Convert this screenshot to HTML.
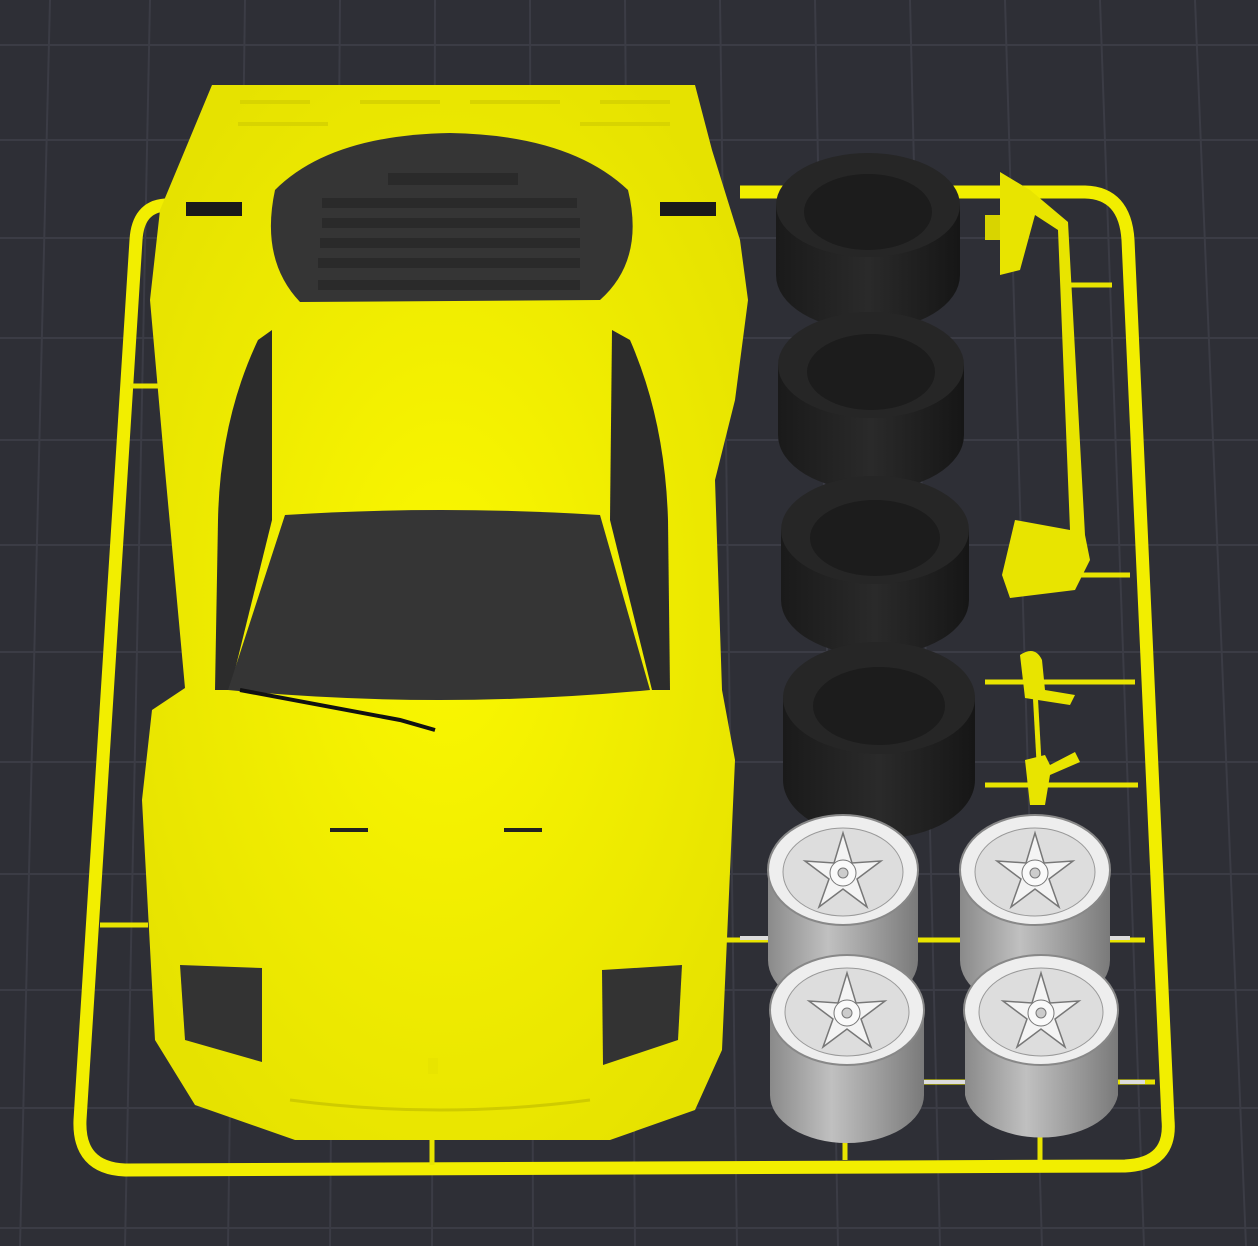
<!DOCTYPE html>
<html><head><meta charset="utf-8"><style>
html,body{margin:0;padding:0;background:#2e2f36;}
svg{display:block;}
</style></head><body>
<svg width="1258" height="1246" viewBox="0 0 1258 1246" xmlns="http://www.w3.org/2000/svg">
<defs>
<linearGradient id="tireG" x1="0" x2="1"><stop offset="0" stop-color="#1a1a1a"/><stop offset=".5" stop-color="#2a2a2a"/><stop offset="1" stop-color="#161616"/></linearGradient>
<linearGradient id="whG" x1="0" x2="1"><stop offset="0" stop-color="#8a8a8a"/><stop offset=".4" stop-color="#c0c0c0"/><stop offset="1" stop-color="#7a7a7a"/></linearGradient>
<radialGradient id="carG" cx=".5" cy=".5" r=".6"><stop offset="0" stop-color="#fbf800"/><stop offset="1" stop-color="#e6e200"/></radialGradient>
<g id="spk"><path d="M0 -40 L9 -10 L38 -12 L14 6 L24 34 L0 16 L-24 34 L-14 6 L-38 -12 L-9 -10 Z" fill="#f4f4f4" stroke="#777" stroke-width="1.5"/><circle r="13" fill="#fafafa" stroke="#777"/><circle r="5" fill="#ccc" stroke="#777"/></g>
</defs>
<rect width="1258" height="1246" fill="#2e2f36"/>
<g stroke="#3b3c45" stroke-width="2">
<line x1="50" y1="0" x2="20" y2="1246"/><line x1="150" y1="0" x2="125" y2="1246"/>
<line x1="245" y1="0" x2="228" y2="1246"/><line x1="340" y1="0" x2="330" y2="1246"/>
<line x1="435" y1="0" x2="432" y2="1246"/><line x1="530" y1="0" x2="533" y2="1246"/>
<line x1="625" y1="0" x2="635" y2="1246"/><line x1="720" y1="0" x2="737" y2="1246"/>
<line x1="815" y1="0" x2="838" y2="1246"/><line x1="910" y1="0" x2="940" y2="1246"/>
<line x1="1005" y1="0" x2="1042" y2="1246"/><line x1="1100" y1="0" x2="1144" y2="1246"/>
<line x1="1195" y1="0" x2="1246" y2="1246"/>
<line x1="0" y1="45" x2="1258" y2="45"/><line x1="0" y1="140" x2="1258" y2="140"/>
<line x1="0" y1="238" x2="1258" y2="238"/><line x1="0" y1="338" x2="1258" y2="338"/>
<line x1="0" y1="440" x2="1258" y2="440"/><line x1="0" y1="545" x2="1258" y2="545"/>
<line x1="0" y1="652" x2="1258" y2="652"/><line x1="0" y1="762" x2="1258" y2="762"/>
<line x1="0" y1="874" x2="1258" y2="874"/><line x1="0" y1="990" x2="1258" y2="990"/>
<line x1="0" y1="1108" x2="1258" y2="1108"/><line x1="0" y1="1228" x2="1258" y2="1228"/>
</g>
<path d="M180 205 L165 205 Q138 207 136 240 L80 1120 Q78 1168 125 1170 L1125 1166 Q1172 1164 1168 1120 L1128 240 Q1125 193 1085 192 L740 192" fill="none" stroke="#f2ee00" stroke-width="13"/>
<g stroke="#e8e400" stroke-width="5">
<line x1="130" y1="386" x2="160" y2="386"/><line x1="100" y1="925" x2="148" y2="925"/>
<line x1="1070" y1="285" x2="1112" y2="285"/><line x1="1080" y1="575" x2="1130" y2="575"/>
<line x1="985" y1="682" x2="1135" y2="682"/><line x1="985" y1="785" x2="1138" y2="785"/>
<line x1="1035" y1="690" x2="1040" y2="780"/><line x1="432" y1="1140" x2="432" y2="1165"/>
<line x1="720" y1="940" x2="1145" y2="940"/><line x1="920" y1="1082" x2="1155" y2="1082"/>
<line x1="845" y1="1135" x2="845" y2="1160"/><line x1="1040" y1="1135" x2="1040" y2="1160"/>
</g>
<g stroke="#ddd" stroke-width="4"><line x1="740" y1="938" x2="770" y2="938"/><line x1="1110" y1="938" x2="1130" y2="938"/><line x1="920" y1="1082" x2="965" y2="1082"/><line x1="1120" y1="1082" x2="1145" y2="1082"/></g>
<path d="M212 85 L695 85 L712 150 L740 240 L748 300 L735 400 L715 480 L722 690 L735 760 L722 1050 L695 1110 L610 1140 L295 1140 L195 1105 L155 1040 L142 800 L152 710 L185 688 L165 470 L150 300 L160 210 L185 150 Z" fill="url(#carG)"/>
<g fill="#d8d400"><rect x="240" y="100" width="70" height="4"/><rect x="360" y="100" width="80" height="4"/><rect x="470" y="100" width="90" height="4"/><rect x="600" y="100" width="70" height="4"/><rect x="238" y="122" width="90" height="4"/><rect x="580" y="122" width="90" height="4"/></g>
<path d="M275 190 Q330 135 450 133 Q570 135 628 190 Q645 260 600 300 L300 302 Q260 260 275 190 Z" fill="#353535"/>
<g fill="#2a2a2a"><rect x="388" y="173" width="130" height="12"/><rect x="322" y="198" width="255" height="10"/><rect x="322" y="218" width="258" height="10"/><rect x="320" y="238" width="260" height="10"/><rect x="318" y="258" width="262" height="10"/><rect x="318" y="280" width="262" height="10"/></g>
<rect x="186" y="202" width="56" height="14" fill="#1a1a1a"/><rect x="660" y="202" width="56" height="14" fill="#1a1a1a"/>
<path d="M272 330 L258 340 Q220 420 218 520 L215 690 L230 690 L272 520 Z" fill="#2c2c2c"/>
<path d="M612 330 L630 340 Q665 420 668 520 L670 690 L652 690 L610 520 Z" fill="#2c2c2c"/>
<path d="M228 690 L285 515 Q440 505 600 515 L650 690 Q440 710 228 690 Z" fill="#353535"/>
<path d="M240 690 L400 720 L435 730" stroke="#111" stroke-width="4" fill="none"/>
<rect x="330" y="828" width="38" height="4" fill="#222"/><rect x="504" y="828" width="38" height="4" fill="#222"/>
<path d="M180 965 L262 968 L262 1062 L185 1040 Z" fill="#333"/>
<path d="M602 970 L682 965 L678 1040 L603 1065 Z" fill="#333"/>
<rect x="428" y="1058" width="10" height="16" fill="#e8e400"/>
<path d="M290 1100 Q440 1120 590 1100" stroke="#cfcb00" stroke-width="3" fill="none"/>
<g>
<path d="M776 205 L776 275 A92 55 0 0 0 960 275 L960 205 Z" fill="url(#tireG)"/>
<ellipse cx="868" cy="205" rx="92" ry="52" fill="#262626"/><ellipse cx="868" cy="212" rx="64" ry="38" fill="#1c1c1c"/>
<path d="M778 365 L778 435 A92 55 0 0 0 964 435 L964 365 Z" fill="url(#tireG)"/>
<ellipse cx="871" cy="365" rx="93" ry="53" fill="#262626"/><ellipse cx="871" cy="372" rx="64" ry="38" fill="#1c1c1c"/>
<path d="M781 530 L781 600 A93 55 0 0 0 969 600 L969 530 Z" fill="url(#tireG)"/>
<ellipse cx="875" cy="530" rx="94" ry="54" fill="#262626"/><ellipse cx="875" cy="538" rx="65" ry="38" fill="#1c1c1c"/>
<path d="M783 698 L783 780 A95 58 0 0 0 975 780 L975 698 Z" fill="url(#tireG)"/>
<ellipse cx="879" cy="698" rx="96" ry="56" fill="#262626"/><ellipse cx="879" cy="706" rx="66" ry="39" fill="#1c1c1c"/>
</g>
<path d="M1000 172 L1030 190 L1068 222 L1085 535 L1090 560 L1075 590 L1010 598 L1002 575 L1015 520 L1070 530 L1058 230 L1035 215 L1020 270 L1000 275 Z" fill="#e8e400"/>
<path d="M985 215 L1000 215 L1000 240 L985 240 Z" fill="#d8d400"/>
<path d="M1020 655 Q1035 645 1042 660 L1045 690 L1075 695 L1070 705 L1025 698 Z" fill="#e8e400"/>
<path d="M1025 760 L1045 755 L1050 765 L1075 752 L1080 762 L1050 775 L1045 805 L1030 805 Z" fill="#e8e400"/>
<g>
<path d="M768 870 L768 960 A75 50 0 0 0 918 960 L918 870 Z" fill="url(#whG)"/>
<ellipse cx="843" cy="870" rx="75" ry="55" fill="#eee" stroke="#888" stroke-width="2"/><ellipse cx="843" cy="872" rx="60" ry="44" fill="#ddd" stroke="#999"/><use href="#spk" x="843" y="873"/>
<path d="M960 870 L960 960 A75 50 0 0 0 1110 960 L1110 870 Z" fill="url(#whG)"/>
<ellipse cx="1035" cy="870" rx="75" ry="55" fill="#eee" stroke="#888" stroke-width="2"/><ellipse cx="1035" cy="872" rx="60" ry="44" fill="#ddd" stroke="#999"/><use href="#spk" x="1035" y="873"/>
<path d="M770 1010 L770 1095 A77 48 0 0 0 924 1095 L924 1010 Z" fill="url(#whG)"/>
<ellipse cx="847" cy="1010" rx="77" ry="55" fill="#eee" stroke="#888" stroke-width="2"/><ellipse cx="847" cy="1012" rx="62" ry="44" fill="#ddd" stroke="#999"/><use href="#spk" x="847" y="1013"/>
<path d="M965 1010 L965 1095 A77 48 0 0 0 1118 1095 L1118 1010 Z" fill="url(#whG)"/>
<ellipse cx="1041" cy="1010" rx="77" ry="55" fill="#eee" stroke="#888" stroke-width="2"/><ellipse cx="1041" cy="1012" rx="62" ry="44" fill="#ddd" stroke="#999"/><use href="#spk" x="1041" y="1013"/>
</g>
</svg>
</body></html>
